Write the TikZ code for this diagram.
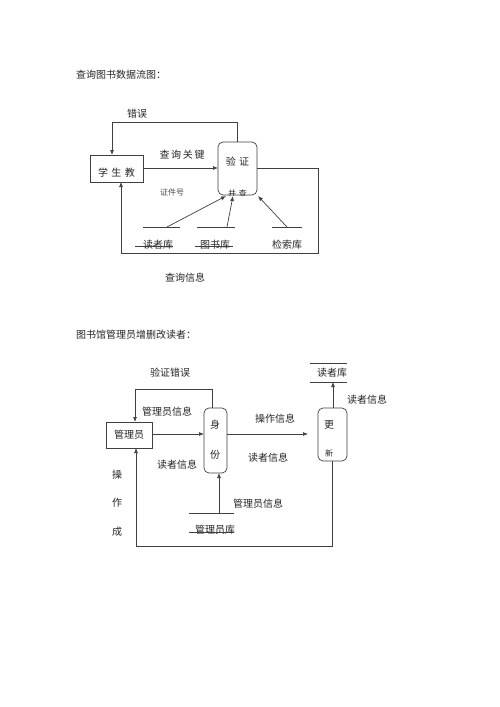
\documentclass[tikz,border=0pt]{standalone}
\usepackage{fontspec}
\setmainfont{Noto Sans CJK SC}
\usetikzlibrary{arrows.meta}
\begin{document}
\begin{tikzpicture}[x=1pt,y=-1pt,
  every node/.style={inner sep=0pt,outer sep=0pt},
  lbl/.style={font=\fontsize{10}{11}\selectfont,text=black!85},
  boxr/.style={draw=black!75,line width=0.7pt},
  boxrr/.style={draw=black!75,line width=0.7pt,rounded corners=5pt},
  ln/.style={draw=black!75,line width=0.7pt},
  arr/.style={draw=black!75,line width=0.7pt,-{Latex[length=5pt,width=4pt]}}]
\useasboundingbox[fill=white] (0,0) rectangle (500,707);

% ---------------- Diagram 1 ----------------
\node[lbl,anchor=west] (t1) at (76,75) {查询图书数据流图：};

\node[boxr,minimum width=53pt,minimum height=27pt] (stu) at (116.5,168.5) {};
\node[lbl] (stut) at (116.5,173) {学\,\,生\,\,教};
\node[boxrr,minimum width=39pt,minimum height=53pt] (ver) at (237.5,168.5) {};
\node[lbl] (vert) at (237.5,162) {验\,\,证};
\begin{scope}
  \clip (218,180) rectangle (257,195);
  \node[font=\fontsize{8}{9}\selectfont,text=black!85] (vert2) at (237.5,193) {并\,\,查};
\end{scope}

\draw[arr] (stu.east |- 0,168) -- (ver.west |- 0,168);
\node[lbl] (q1) at (182,155) {查\,询\,关\,键};

\coordinate (c1) at (112,122);
\draw[arr] (ver.north) |- (c1) -- (c1 |- stu.north);
\node[lbl] (e1) at (137,114) {错误};

\coordinate (c2) at (318,168);
\coordinate (c3) at (318,253);
\coordinate (c4) at (121,253);
\draw[arr] (ver.east |- c2) -- (c2) -- (c3) -- (c4) -- (c4 |- stu.south);
\node[lbl] (q2) at (185,278) {查询信息};

\node[font=\fontsize{8}{9}\selectfont,text=black!70] (zj) at (172,192) {证件号};

% stores
\coordinate (s1a) at (143,227); \coordinate (s1b) at (180,227);
\coordinate (s2a) at (197,227); \coordinate (s2b) at (235,227);
\coordinate (s3a) at (272,227); \coordinate (s3b) at (302,227);
\draw[ln] (s1a) -- (s1b);
\draw[ln] (s2a) -- (s2b);
\draw[ln] (s3a) -- (s3b);
\node[lbl] (dz) at (158,245) {读者库};
\node[lbl] (ts) at (215,245) {图书库};
\node[lbl] (js) at (287,245) {检索库};
\coordinate (k1a) at (135,246); \coordinate (k1b) at (173,246);
\coordinate (k2a) at (195,246); \coordinate (k2b) at (233,246);
\draw[ln] (k1a) -- (k1b);
\draw[ln] (k2a) -- (k2b);

\coordinate (f1) at (167,227); \coordinate (g1) at (226,196);
\coordinate (f2) at (227,227); \coordinate (g2) at (233,196);
\coordinate (f3) at (287,227); \coordinate (g3) at (258,196);
\draw[arr] (f1) -- (g1);
\draw[arr] (f2) -- (g2);
\draw[arr] (f3) -- (g3);

% ---------------- Diagram 2 ----------------
\node[lbl,anchor=west] (t2) at (76,335) {图书馆管理员增删改读者：};

\node[boxr,minimum width=46pt,minimum height=26pt] (adm) at (129,435) {};
\node[lbl] (admt) at (129,435) {管理员};
\node[boxrr,minimum width=23pt,minimum height=65pt] (sf) at (215.5,440.5) {};
\node[lbl] (sf1) at (215,425) {身};
\node[lbl] (sf2) at (215,455) {份};
\node[boxrr,minimum width=29pt,minimum height=53pt] (gx) at (332.5,434.5) {};
\node[lbl] (gx1) at (329,425) {更};
\node[font=\fontsize{8}{9}\selectfont,text=black!85] (gx2) at (329,453) {新};

% reader store
\coordinate (r1a) at (310,363); \coordinate (r1b) at (347,363);
\coordinate (r2a) at (310,382); \coordinate (r2b) at (347,382);
\draw[ln] (r1a) -- (r1b);
\draw[ln] (r2a) -- (r2b);
\node[lbl] (rs) at (332,373) {读者库};
\draw[arr] (gx.north -| 333,0) -- (333,382);
\node[lbl] (ri) at (367,400) {读者信息};

% top loop
\coordinate (d1) at (212,389);
\coordinate (d2) at (135,389);
\draw[arr] (d1 |- sf.north) -- (d1) -- (d2) -- (d2 |- adm.north);
\node[lbl] (ve) at (170,373) {验证错误};

\node[lbl] (ai) at (167,412) {管理员信息};
\draw[arr] (adm.east |- 0,434) -- (sf.west |- 0,434);
\coordinate (op) at (308,434);
\draw[arr] (sf.east |- op) -- (op);
\node[lbl] (oi) at (275,419) {操作信息};
\node[lbl] (ri2) at (268,458) {读者信息};
\node[lbl] (ri3) at (177,465) {读者信息};

% bottom loop
\coordinate (b1) at (332,546);
\coordinate (b2) at (136,546);
\draw[arr] (gx.south -| b1) -- (b1) -- (b2) -- (b2 |- adm.south);
\node[lbl] (o1) at (117,475) {操};
\node[lbl] (o2) at (117,503) {作};
\node[lbl] (o3) at (117,532) {成};

% admin store
\coordinate (m1a) at (189,513); \coordinate (m1b) at (234,513);
\draw[ln] (m1a) -- (m1b);
\node[lbl] (ms) at (215,530) {管理员库};
\coordinate (m2a) at (189,532); \coordinate (m2b) at (234,532);
\draw[ln] (m2a) -- (m2b);
\coordinate (m3) at (219,513);
\draw[arr] (m3) -- (m3 |- sf.south);
\node[lbl] (mi) at (258,504) {管理员信息};
\end{tikzpicture}
\end{document}
